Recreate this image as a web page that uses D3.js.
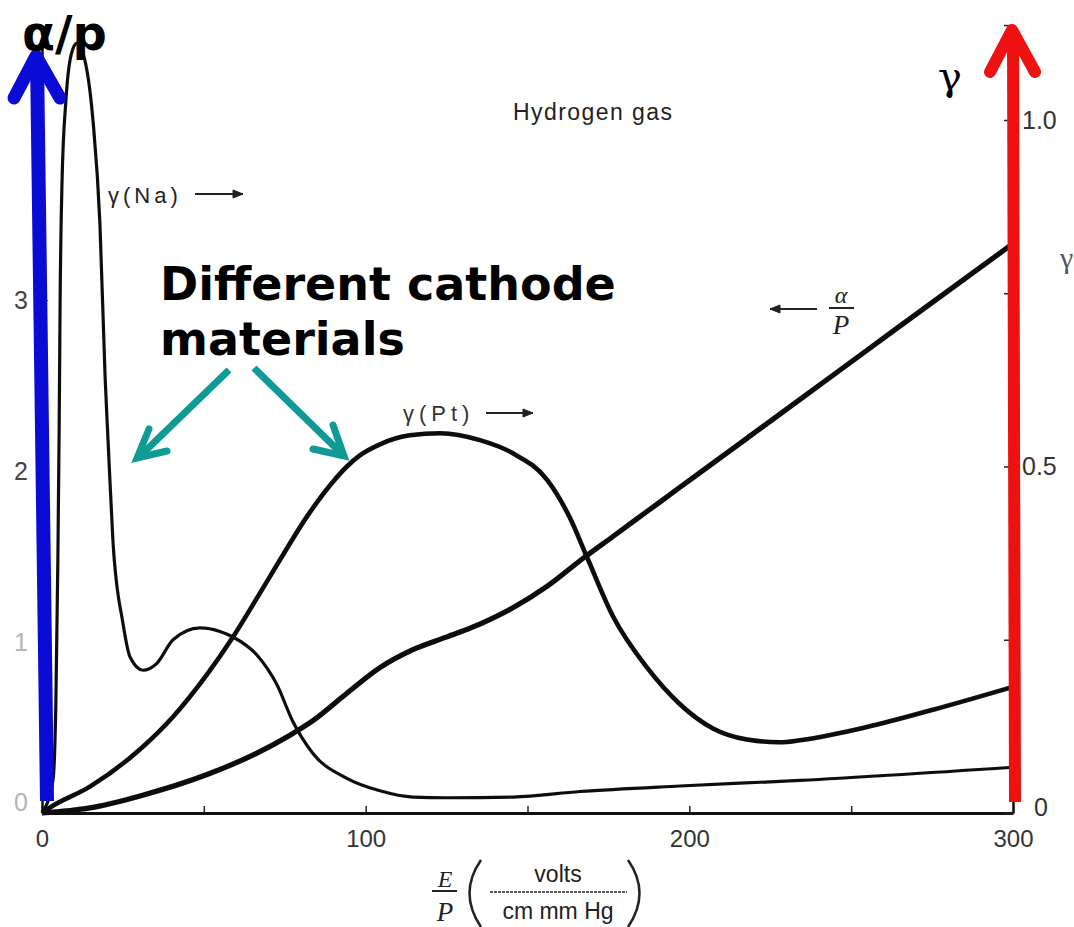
<!DOCTYPE html>
<html>
<head>
<meta charset="utf-8">
<script src="https://cdn.jsdelivr.net/npm/d3@7"></script>
<style>
  body { margin: 0; background: #fff; }
  svg { display: block; }
</style>
</head>
<body>
<script>
const W = 1074;
const H = 927;

// E/P (volts / cm mm Hg) vs gamma(Na), right axis
const naEP = [0, 3.4, 4.3, 4.9, 5.3, 5.6, 6.2, 7.4, 9.0, 10.8, 13.9, 15.8, 17.9, 19.5, 20.4, 21.9, 25.0, 27.2, 31.2, 35.5, 40.5, 48.8, 55.0, 59.0, 66.4, 72.6, 77.5, 83.7, 94.2, 104.4, 114.6, 125.1, 145.5, 166.2, 197.1, 234.2, 300];
const naGamma = [0, 0.048, 0.163, 0.365, 0.553, 0.740, 0.913, 1.029, 1.094, 1.111, 1.071, 0.997, 0.850, 0.629, 0.538, 0.394, 0.274, 0.225, 0.206, 0.216, 0.250, 0.267, 0.262, 0.254, 0.228, 0.185, 0.132, 0.086, 0.050, 0.032, 0.023, 0.022, 0.023, 0.031, 0.039, 0.047, 0.066];

// gamma(Pt), right axis
const ptEP = [0, 2.5, 14.8, 30.3, 40.5, 51.0, 59.0, 66.4, 73.5, 81.9, 89.9, 94.2, 98.2, 104.4, 113.7, 123.0, 135.3, 145.5, 156.0, 163.1, 168.4, 176.4, 186.9, 197.1, 207.3, 217.8, 228.0, 234.2, 254.9, 275.3, 300];
const ptGamma = [0, 0.008, 0.038, 0.092, 0.139, 0.200, 0.254, 0.310, 0.365, 0.428, 0.478, 0.500, 0.516, 0.532, 0.545, 0.548, 0.538, 0.519, 0.481, 0.426, 0.369, 0.284, 0.210, 0.157, 0.122, 0.106, 0.102, 0.105, 0.124, 0.149, 0.182];

// alpha/P, left axis
const apEP = [0, 14.8, 30.3, 51.0, 66.4, 76.6, 83.7, 94.2, 104.4, 114.6, 125.1, 135.3, 145.5, 156.0, 167.7, 176.4, 186.9, 197.1, 207.3, 218.7, 234.2, 254.9, 275.3, 300];
const apVal = [0, 0.030, 0.100, 0.225, 0.350, 0.455, 0.540, 0.700, 0.850, 0.955, 1.030, 1.105, 1.200, 1.325, 1.497, 1.617, 1.763, 1.905, 2.046, 2.204, 2.419, 2.706, 2.989, 3.33];

const xTicks = [0, 50, 100, 150, 200, 250, 300];
const leftTicks = [0, 1, 2, 3];
const rightTicks = [0, 0.25, 0.5, 0.75, 1.0, 1.137];

const x = d3.scaleLinear().domain([0, 300]).range([42, 1013]);
const yL = d3.scaleLinear().domain([0, 4.5]).range([813, 43.5]);
const yR = d3.scaleLinear().domain([0, 1]).range([813, 120]);

const svg = d3.select("body").append("svg")
    .attr("width", W)
    .attr("height", H);

// slight blur to look like the scan
const defs = svg.append("defs");
defs.append("filter").attr("id", "scan")
    .append("feGaussianBlur").attr("stdDeviation", 0.55);

const scanFont = "'Liberation Sans', Arial, sans-serif";
const serif = "'Liberation Serif', 'DejaVu Serif', serif";

// x axis
const xAxis = svg.append("g")
    .attr("transform", "translate(0," + yR(0) + ")")
    .call(d3.axisBottom(x)
        .tickValues(xTicks)
        .tickSize(-7)
        .tickSizeOuter(0)
        .tickPadding(12)
        .tickFormat(d => d % 100 === 0 ? d : ""));
xAxis.select(".domain").attr("stroke", "#111").attr("stroke-width", 3);
xAxis.selectAll(".tick line").attr("stroke", "#222").attr("stroke-width", 1.5);
xAxis.selectAll("text")
    .style("font-family", scanFont)
    .style("font-size", "24px")
    .attr("fill", "#333")
    .attr("dy", "0.9em");

// left axis (alpha/P)
const lAxis = svg.append("g")
    .attr("transform", "translate(" + x(0) + ",0)")
    .call(d3.axisLeft(yL)
        .tickValues(leftTicks)
        .tickSize(-6)
        .tickSizeOuter(0)
        .tickPadding(14)
        .tickFormat(d3.format("d")));
lAxis.select(".domain").attr("stroke", "#111").attr("stroke-width", 2.5);
lAxis.selectAll(".tick line").attr("stroke", "#444").attr("stroke-width", 1.2);
lAxis.selectAll("text")
    .attr("text-anchor", "middle")
    .attr("x", -21)
    .attr("dy", d => d === 0 ? "-0.1em" : "0.32em")
    .style("font-family", scanFont)
    .style("font-size", "25px")
    .attr("fill", d => d <= 1 ? "#b5b5b5" : "#444");

// right axis (gamma)
const rAxis = svg.append("g")
    .attr("transform", "translate(" + x(300) + ",0)")
    .call(d3.axisRight(yR)
        .tickValues(rightTicks)
        .tickSize(-9)
        .tickSizeOuter(0)
        .tickPadding(9)
        .tickFormat(d => d === 0 ? "0" : d === 0.5 ? "0.5" : d === 1 ? "1.0" : ""));
rAxis.select(".domain").attr("stroke", "#111").attr("stroke-width", 2.5);
rAxis.selectAll(".tick line").attr("stroke", "#222").attr("stroke-width", 1.5);
rAxis.selectAll("text")
    .style("font-family", scanFont)
    .style("font-size", "25px")
    .attr("fill", "#333")
    .attr("dy", d => d === 0 ? "0.1em" : "0.32em")
    .attr("dx", d => d === 0 ? 12 : 0);

// curves
const line = (xs, ys, yScale) => d3.line()
    .x((d, i) => x(xs[i]))
    .y((d, i) => yScale(ys[i]))
    .curve(d3.curveMonotoneX)(xs);

const curves = svg.append("g").attr("filter", "url(#scan)");
curves.append("path")
    .attr("d", line(naEP, naGamma, yR))
    .attr("fill", "none").attr("stroke", "#111").attr("stroke-width", 3.2);
curves.append("path")
    .attr("d", line(ptEP, ptGamma, yR))
    .attr("fill", "none").attr("stroke", "#0a0a0a").attr("stroke-width", 4.6);
curves.append("path")
    .attr("d", line(apEP, apVal, yL))
    .attr("fill", "none").attr("stroke", "#0a0a0a").attr("stroke-width", 5.2);

// scanned labels
svg.append("text")
    .attr("x", 513).attr("y", 120)
    .attr("textLength", 159)
    .style("font-family", scanFont)
    .style("font-size", "23px")
    .attr("fill", "#222")
    .text("Hydrogen gas");

function smallArrow(x1, x2, y) {
    const g = svg.append("g").attr("stroke", "#222").attr("fill", "#222");
    g.append("line").attr("x1", x1).attr("x2", x2).attr("y1", y).attr("y2", y)
        .attr("stroke-width", 2);
    const dir = x2 > x1 ? 1 : -1;
    g.append("path")
        .attr("d", `M${x2},${y} L${x2 - dir * 10},${y - 4} L${x2 - dir * 10},${y + 4} Z`)
        .attr("stroke-width", 1);
}

svg.append("text")
    .attr("x", 108).attr("y", 203)
    .style("font-family", scanFont)
    .style("font-size", "22px")
    .style("letter-spacing", "4px")
    .attr("fill", "#222")
    .text("γ(Na)");
smallArrow(195, 243, 194);

svg.append("text")
    .attr("x", 403).attr("y", 421)
    .style("font-family", scanFont)
    .style("font-size", "22px")
    .style("letter-spacing", "5px")
    .attr("fill", "#333")
    .text("γ(Pt)");
smallArrow(486, 533, 413);

smallArrow(817, 770, 309);
svg.append("text")
    .attr("x", 841).attr("y", 303)
    .attr("text-anchor", "middle")
    .style("font-family", serif)
    .style("font-style", "italic")
    .style("font-size", "24px")
    .attr("fill", "#222")
    .text("α");
svg.append("line")
    .attr("x1", 829).attr("x2", 854).attr("y1", 308).attr("y2", 308)
    .attr("stroke", "#222").attr("stroke-width", 2);
svg.append("text")
    .attr("x", 841).attr("y", 334)
    .attr("text-anchor", "middle")
    .style("font-family", serif)
    .style("font-style", "italic")
    .style("font-size", "27px")
    .attr("fill", "#222")
    .text("P");

svg.append("text")
    .attr("x", 1060).attr("y", 268)
    .style("font-family", serif)
    .style("font-size", "30px")
    .attr("fill", "#555")
    .text("γ");

// x axis title  E/P (volts / cm mm Hg)
const xt = svg.append("g").attr("fill", "#222").attr("stroke", "#222");
xt.append("text")
    .attr("x", 445).attr("y", 887).attr("text-anchor", "middle").attr("stroke", "none")
    .style("font-family", serif).style("font-style", "italic").style("font-size", "24px")
    .text("E");
xt.append("line").attr("x1", 432).attr("x2", 457).attr("y1", 891).attr("y2", 891)
    .attr("stroke-width", 2);
xt.append("text")
    .attr("x", 445).attr("y", 921).attr("text-anchor", "middle").attr("stroke", "none")
    .style("font-family", serif).style("font-style", "italic").style("font-size", "27px")
    .text("P");
xt.append("path").attr("d", "M481,860 Q458,893 481,927").attr("fill", "none").attr("stroke-width", 2.5);
xt.append("path").attr("d", "M628,860 Q651,893 628,927").attr("fill", "none").attr("stroke-width", 2.5);
xt.append("text")
    .attr("x", 558).attr("y", 882).attr("text-anchor", "middle").attr("stroke", "none")
    .style("font-family", scanFont).style("font-size", "23px")
    .text("volts");
xt.append("line").attr("x1", 490).attr("x2", 627).attr("y1", 892).attr("y2", 892)
    .attr("stroke-width", 1.5).attr("stroke-dasharray", "3,1");
xt.append("text")
    .attr("x", 558).attr("y", 919).attr("text-anchor", "middle").attr("stroke", "none")
    .style("font-family", scanFont).style("font-size", "23px")
    .text("cm mm Hg");

// overlay: coloured axis arrows
const blue = "#0b0bd6";
const red = "#ee1111";
svg.append("line")
    .attr("x1", x(0) + 5).attr("y1", yL(0) - 12)
    .attr("x2", x(0) - 5).attr("y2", 58)
    .attr("stroke", blue).attr("stroke-width", 14);
svg.append("polyline")
    .attr("points", "14,98 36,56 60,98")
    .attr("fill", "none").attr("stroke", blue).attr("stroke-width", 13)
    .attr("stroke-linecap", "round").attr("stroke-linejoin", "round");

svg.append("line")
    .attr("x1", x(300) + 2).attr("y1", yR(0) - 11)
    .attr("x2", x(300)).attr("y2", 30)
    .attr("stroke", red).attr("stroke-width", 12);
svg.append("polyline")
    .attr("points", "990,72 1012,30 1035,72")
    .attr("fill", "none").attr("stroke", red).attr("stroke-width", 12)
    .attr("stroke-linecap", "round").attr("stroke-linejoin", "round");

svg.append("text")
    .attr("x", 22).attr("y", 50)
    .style("font-family", "'DejaVu Sans', sans-serif")
    .style("font-weight", "bold")
    .style("font-size", "48px")
    .attr("fill", "#000")
    .text("α/p");

svg.append("text")
    .attr("x", 938).attr("y", 90)
    .style("font-family", "'DejaVu Serif', serif")
    .style("font-size", "40px")
    .attr("fill", "#000")
    .text("γ");

// annotation
const note = svg.append("text")
    .style("font-family", "'DejaVu Sans', Verdana, sans-serif")
    .style("font-weight", "bold")
    .style("font-size", "46px")
    .attr("fill", "#000");
note.append("tspan").attr("x", 160).attr("y", 300).text("Different cathode");
note.append("tspan").attr("x", 160).attr("y", 355).text("materials");

const teal = "#0f9a96";
const arrows = [
    { from: [229, 370], to: [138, 458], head: "149,429 137,458 167,451" },
    { from: [254, 368], to: [343, 455], head: "333,425 344,456 313,449" }
];
arrows.forEach(a => {
    svg.append("line")
        .attr("x1", a.from[0]).attr("y1", a.from[1])
        .attr("x2", a.to[0]).attr("y2", a.to[1])
        .attr("stroke", teal).attr("stroke-width", 7);
    svg.append("polyline")
        .attr("points", a.head)
        .attr("fill", "none").attr("stroke", teal).attr("stroke-width", 7)
        .attr("stroke-linejoin", "miter").attr("stroke-linecap", "round");
});
</script>
</body>
</html>
